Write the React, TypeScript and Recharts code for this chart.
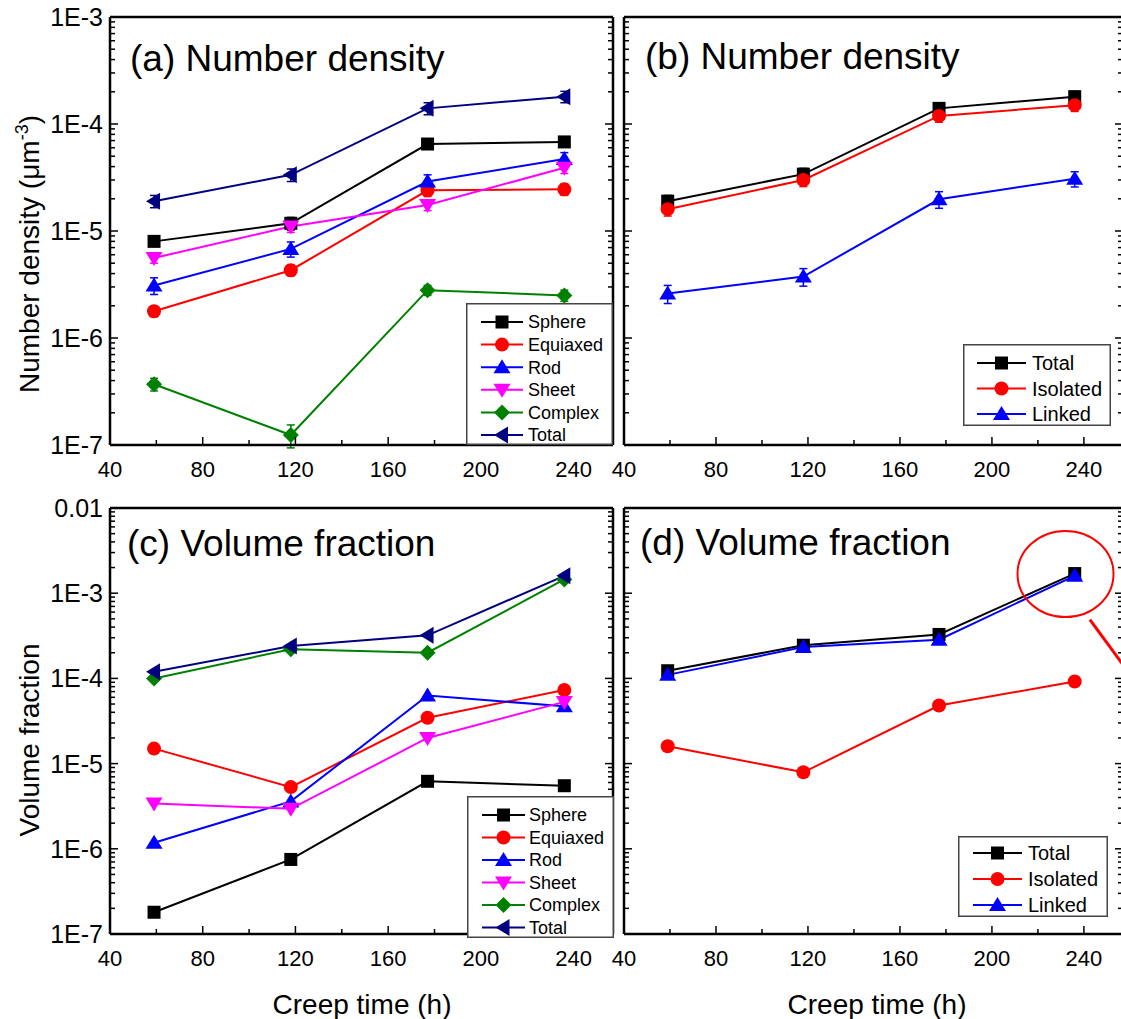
import React from 'react';
import { LineChart, Line, XAxis, YAxis, ReferenceDot, ReferenceLine, ErrorBar } from 'recharts';

const FONT = 'Arial, "Liberation Sans", Helvetica, sans-serif';

// creep time of the four samples (h)
const creepTime = [59, 118, 177, 236];

// (a) number density by morphology (um^-3), with error bars
const ndSphere = [8.0e-6, 1.18e-5, 6.5e-5, 6.8e-5];
const ndEquiaxed = [1.78e-6, 4.3e-6, 2.4e-5, 2.45e-5];
const ndRod = [3.1e-6, 6.8e-6, 2.9e-5, 4.7e-5];
const ndSheet = [5.6e-6, 1.1e-5, 1.75e-5, 3.9e-5];
const ndComplex = [3.7e-7, 1.24e-7, 2.8e-6, 2.5e-6];
const ndTotal = [1.9e-5, 3.35e-5, 1.4e-4, 1.8e-4];
const ndSphereErr = [8e-7, 1.6e-6, 5e-6, 5e-6];
const ndEquiaxedErr = [2e-7, 5e-7, 3e-6, 3e-6];
const ndRodErr = [5.5e-7, 1.1e-6, 4.5e-6, 7e-6];
const ndSheetErr = [6e-7, 1.3e-6, 2e-6, 4.5e-6];
const ndComplexErr = [5e-8, 3e-8, 3e-7, 3e-7];
const ndTotalErr = [2.5e-6, 4.5e-6, 1.8e-5, 2.2e-5];

// (b) number density, isolated vs linked
const ndAllTotal = [1.9e-5, 3.4e-5, 1.4e-4, 1.8e-4];
const ndIsolated = [1.6e-5, 3.0e-5, 1.19e-4, 1.5e-4];
const ndLinked = [2.6e-6, 3.75e-6, 1.98e-5, 3.08e-5];
const ndAllTotalErr = [2.5e-6, 4.5e-6, 1.8e-5, 2.2e-5];
const ndIsolatedErr = [2.2e-6, 4e-6, 1.5e-5, 1.9e-5];
const ndLinkedErr = [5e-7, 7e-7, 3.5e-6, 5e-6];

// (c) volume fraction by morphology
const vfSphere = [1.8e-7, 7.5e-7, 6.2e-6, 5.5e-6];
const vfEquiaxed = [1.5e-5, 5.3e-6, 3.45e-5, 7.3e-5];
const vfRod = [1.18e-6, 3.6e-6, 6.3e-5, 4.7e-5];
const vfSheet = [3.4e-6, 2.95e-6, 2.0e-5, 5.3e-5];
const vfComplex = [1.0e-4, 2.2e-4, 2.0e-4, 1.45e-3];
const vfTotal = [1.2e-4, 2.4e-4, 3.2e-4, 1.6e-3];

// (d) volume fraction, isolated vs linked
const vfAllTotal = [1.23e-4, 2.45e-4, 3.28e-4, 1.7e-3];
const vfIsolated = [1.6e-5, 7.9e-6, 4.8e-5, 9.2e-5];
const vfLinked = [1.1e-4, 2.33e-4, 2.85e-4, 1.6e-3];

// axis ticks
const xDomain = [40, 257];
const xMajor = [40, 80, 120, 160, 200, 240];
const xMinor = [60, 100, 140, 180, 220];
const xTicks = [...xMajor, ...xMinor].sort((a, b) => a - b);
const decades = [-7, -6, -5, -4, -3, -2];
const minorSteps = [2, 3, 4, 5, 6, 7, 8, 9];

// red highlight in (d)
const highlightAt = { x: 232, y: 1.68e-3 };
const pointerLine = [{ x: 242.6, y: 4.9e-4 }, { x: 257, y: 1.45e-4 }];

type Series = { key: string; name: string; color: string; shape: string };

const shapeSeries: Series[] = [
  { key: 'sphere', name: 'Sphere', color: '#000000', shape: 'square' },
  { key: 'equiaxed', name: 'Equiaxed', color: '#ff0000', shape: 'circle' },
  { key: 'rod', name: 'Rod', color: '#0000ff', shape: 'up' },
  { key: 'sheet', name: 'Sheet', color: '#ff00ff', shape: 'down' },
  { key: 'complex', name: 'Complex', color: '#008000', shape: 'diamond' },
  { key: 'total', name: 'Total', color: '#000080', shape: 'left' },
];

const linkSeries: Series[] = [
  { key: 'total', name: 'Total', color: '#000000', shape: 'square' },
  { key: 'isolated', name: 'Isolated', color: '#ff0000', shape: 'circle' },
  { key: 'linked', name: 'Linked', color: '#0000ff', shape: 'up' },
];

const dataA = creepTime.map((t, i) => ({
  t, sphere: ndSphere[i], equiaxed: ndEquiaxed[i], rod: ndRod[i],
  sheet: ndSheet[i], complex: ndComplex[i], total: ndTotal[i],
  sphereErr: ndSphereErr[i], equiaxedErr: ndEquiaxedErr[i], rodErr: ndRodErr[i],
  sheetErr: ndSheetErr[i], complexErr: ndComplexErr[i], totalErr: ndTotalErr[i],
}));
const dataB = creepTime.map((t, i) => ({
  t, total: ndAllTotal[i], isolated: ndIsolated[i], linked: ndLinked[i],
  totalErr: ndAllTotalErr[i], isolatedErr: ndIsolatedErr[i], linkedErr: ndLinkedErr[i],
}));
const dataC = creepTime.map((t, i) => ({
  t, sphere: vfSphere[i], equiaxed: vfEquiaxed[i], rod: vfRod[i],
  sheet: vfSheet[i], complex: vfComplex[i], total: vfTotal[i],
}));
const dataD = creepTime.map((t, i) => ({ t, total: vfAllTotal[i], isolated: vfIsolated[i], linked: vfLinked[i] }));

function logTicks(lo: number, hi: number) {
  const out: number[] = [];
  decades.forEach(d => {
    if (d < lo || d > hi) return;
    out.push(Math.pow(10, d));
    if (d < hi) minorSteps.forEach(m => out.push(m * Math.pow(10, d)));
  });
  return out.sort((a, b) => a - b);
}

function isDecade(v: number) {
  const l = Math.log10(v);
  return Math.abs(l - Math.round(l)) < 1e-6;
}

function fmtLog(v: number) {
  const e = Math.round(Math.log10(v));
  return e === -2 ? '0.01' : `1E${e}`;
}

function Marker({ cx, cy, shape, color }: any) {
  if (cx == null || cy == null) return null;
  switch (shape) {
    case 'square':
      return <rect x={cx - 6.5} y={cy - 6.5} width={13} height={13} fill={color} />;
    case 'circle':
      return <circle cx={cx} cy={cy} r={7} fill={color} />;
    case 'up':
      return <polygon points={`${cx},${cy - 8} ${cx + 8.5},${cy + 6} ${cx - 8.5},${cy + 6}`} fill={color} />;
    case 'down':
      return <polygon points={`${cx},${cy + 8} ${cx + 8.5},${cy - 6} ${cx - 8.5},${cy - 6}`} fill={color} />;
    case 'diamond':
      return <polygon points={`${cx},${cy - 8} ${cx + 8},${cy} ${cx},${cy + 8} ${cx - 8},${cy}`} fill={color} />;
    default:
      return <polygon points={`${cx - 8},${cy} ${cx + 6},${cy - 8.5} ${cx + 6},${cy + 8.5}`} fill={color} />;
  }
}

function XTick({ x, y, payload, side, labels }: any) {
  const major = xMajor.includes(payload.value);
  const len = major ? 8 : 5;
  const dir = side === 'top' ? 1 : -1;
  return (
    <g>
      <line x1={x} x2={x} y1={y} y2={y + dir * len} stroke="#000" strokeWidth={1.5} />
      {labels && major && (
        <text x={x} y={y + 32} textAnchor="middle" fontSize={22} fill="#000" fontFamily={FONT}>
          {payload.value}
        </text>
      )}
    </g>
  );
}

function YTick({ x, y, payload, side, labels }: any) {
  const major = isDecade(payload.value);
  const len = major ? 8 : 5;
  const dir = side === 'right' ? -1 : 1;
  return (
    <g>
      <line x1={x} x2={x + dir * len} y1={y} y2={y} stroke="#000" strokeWidth={1.5} />
      {labels && major && (
        <text x={x - 7} y={y + 9} textAnchor="end" fontSize={25} fill="#000" fontFamily={FONT}>
          {fmtLog(payload.value)}
        </text>
      )}
    </g>
  );
}

type LegendCfg = {
  x: number; y: number; w: number; h: number; row0: number; gap: number;
  lineX0: number; lineX1: number; textX: number; fs: number;
};

function LegendBox({ cfg, series, ox, oy }: { cfg: LegendCfg; series: Series[]; ox: number; oy: number }) {
  return (
    <svg
      style={{ position: 'absolute', left: cfg.x - ox, top: cfg.y - oy, overflow: 'visible' }}
      width={cfg.w}
      height={cfg.h}
    >
      <rect x={0.75} y={0.75} width={cfg.w - 1.5} height={cfg.h - 1.5} fill="#fff" stroke="#444" strokeWidth={1.5} />
      {series.map((s, i) => {
        const cy = cfg.row0 - cfg.y + i * cfg.gap;
        const x0 = cfg.lineX0 - cfg.x;
        const x1 = cfg.lineX1 - cfg.x;
        return (
          <g key={s.key}>
            <line x1={x0} x2={x1} y1={cy} y2={cy} stroke={s.color} strokeWidth={2} />
            <Marker cx={(x0 + x1) / 2} cy={cy} shape={s.shape} color={s.color} />
            <text x={cfg.textX - cfg.x} y={cy + cfg.fs * 0.36} fontSize={cfg.fs} fontFamily={FONT} fill="#000">
              {s.name}
            </text>
          </g>
        );
      })}
    </svg>
  );
}

type PanelProps = {
  box: number[];
  plot: number[];
  data: any[];
  series: Series[];
  yRange: number[];
  yLabels: boolean;
  errors?: boolean;
  legend: LegendCfg;
  title: string;
  titlePos: number[];
  yTitle?: React.ReactNode;
  yTitleY?: number;
  xTitleX?: number;
  children?: React.ReactNode;
};

function Panel({ box, plot, data, series, yRange, yLabels, errors, legend, title, titlePos, yTitle, yTitleY, xTitleX, children }: PanelProps) {
  const [bl, bt, bw, bh] = box;
  const [px0, py0, px1, py1] = plot;
  const yDomain = [Math.pow(10, yRange[0]), Math.pow(10, yRange[1])];
  const yTicks = logTicks(yRange[0], yRange[1]);
  const axisLine = { stroke: '#000', strokeWidth: 2.5 };
  return (
    <div style={{ position: 'absolute', left: bl, top: bt, width: bw, height: bh }}>
      <LineChart width={bw} height={bh} data={data} margin={{ top: 0, right: 0, bottom: 0, left: 0 }}>
        <XAxis
          xAxisId="b" dataKey="t" type="number" domain={xDomain} allowDataOverflow
          ticks={xTicks} interval={0} height={bt + bh - py1} tickSize={0} tickMargin={0}
          tickLine={false} axisLine={axisLine} tick={<XTick side="bottom" labels />}
        />
        <XAxis
          xAxisId="t" orientation="top" type="number" domain={xDomain} allowDataOverflow
          ticks={xTicks} interval={0} height={py0 - bt} tickSize={0} tickMargin={0}
          tickLine={false} axisLine={axisLine} tick={<XTick side="top" />}
        />
        <YAxis
          yAxisId="l" type="number" scale="log" domain={yDomain} allowDataOverflow
          ticks={yTicks} interval={0} width={px0 - bl} tickSize={0} tickMargin={0}
          tickLine={false} axisLine={axisLine} tick={<YTick side="left" labels={yLabels} />}
        />
        <YAxis
          yAxisId="r" orientation="right" type="number" scale="log" domain={yDomain} allowDataOverflow
          ticks={yTicks} interval={0} width={bl + bw - px1} tickSize={0} tickMargin={0}
          tickLine={false} axisLine={axisLine} tick={<YTick side="right" />}
        />
        {series.map(s => (
          <Line
            key={s.key}
            xAxisId="b"
            yAxisId="l"
            type="linear"
            dataKey={s.key}
            name={s.name}
            stroke={s.color}
            strokeWidth={2}
            isAnimationActive={false}
            activeDot={false}
            dot={(p: any) => <Marker key={`${s.key}-${p.index}`} cx={p.cx} cy={p.cy} shape={s.shape} color={s.color} />}
          >
            {errors && (
              <ErrorBar
                dataKey={`${s.key}Err`}
                direction="y"
                width={4}
                stroke={s.color}
                strokeWidth={1.5}
                isAnimationActive={false}
              />
            )}
          </Line>
        ))}
        {children}
      </LineChart>
      <svg
        style={{ position: 'absolute', left: 0, top: 0, pointerEvents: 'none', overflow: 'visible' }}
        width={bw}
        height={bh}
      >
        <text x={titlePos[0] - bl} y={titlePos[1] - bt} fontSize={37} fontFamily={FONT} fill="#000">
          {title}
        </text>
        {yTitle && (
          <text
            transform={`translate(${39 - bl},${(yTitleY as number) - bt}) rotate(-90)`}
            textAnchor="middle"
            fontSize={28}
            fontFamily={FONT}
            fill="#000"
          >
            {yTitle}
          </text>
        )}
        {xTitleX != null && (
          <text x={xTitleX - bl} y={1014 - bt} textAnchor="middle" fontSize={28} fontFamily={FONT} fill="#000">
            Creep time (h)
          </text>
        )}
      </svg>
      <LegendBox cfg={legend} series={series} ox={bl} oy={bt} />
    </div>
  );
}

export default function App() {
  return (
    <div
      style={{
        position: 'absolute', left: 0, top: 0, width: 1121, height: 1019,
        overflow: 'hidden', background: '#fff', fontFamily: FONT,
      }}
    >
      <Panel
        box={[0, 0, 640, 495]}
        plot={[110, 17, 613, 445]}
        data={dataA}
        series={shapeSeries}
        yRange={[-7, -3]}
        yLabels
        errors
        title="(a) Number density"
        titlePos={[130, 71]}
        yTitle={<>Number density (μm<tspan dy={-11} fontSize={18}>-3</tspan><tspan dy={11}>)</tspan></>}
        yTitleY={254}
        legend={{ x: 466, y: 303, w: 147, h: 142, row0: 322, gap: 22.6, lineX0: 481, lineX1: 523, textX: 528, fs: 18 }}
      />
      <Panel
        box={[600, 0, 540, 495]}
        plot={[624, 17, 1123, 445]}
        data={dataB}
        series={linkSeries}
        yRange={[-7, -3]}
        yLabels={false}
        errors
        title="(b) Number density"
        titlePos={[645, 69]}
        legend={{ x: 963, y: 344, w: 148, h: 82, row0: 363, gap: 25.5, lineX0: 977, lineX1: 1026, textX: 1032, fs: 20 }}
      />
      <Panel
        box={[0, 490, 640, 529]}
        plot={[110, 508, 613, 934]}
        data={dataC}
        series={shapeSeries}
        yRange={[-7, -2]}
        yLabels
        title="(c) Volume fraction"
        titlePos={[127, 556]}
        yTitle="Volume fraction"
        yTitleY={740}
        xTitleX={362}
        legend={{ x: 467, y: 796, w: 147, h: 142, row0: 815, gap: 22.5, lineX0: 482, lineX1: 525, textX: 529, fs: 18 }}
      />
      <Panel
        box={[600, 490, 540, 529]}
        plot={[624, 508, 1123, 934]}
        data={dataD}
        series={linkSeries}
        yRange={[-7, -2]}
        yLabels={false}
        title="(d) Volume fraction"
        titlePos={[640, 555]}
        xTitleX={877}
        legend={{ x: 958, y: 836, w: 150, h: 81, row0: 853, gap: 26, lineX0: 973, lineX1: 1022, textX: 1028, fs: 20 }}
      >
        <ReferenceDot
          xAxisId="b"
          yAxisId="l"
          x={highlightAt.x}
          y={highlightAt.y}
          ifOverflow="visible"
          shape={(p: any) => <ellipse cx={p.cx} cy={p.cy} rx={48} ry={43} fill="none" stroke="#ff0000" strokeWidth={2} />}
        />
        <ReferenceLine
          xAxisId="b"
          yAxisId="l"
          segment={pointerLine}
          stroke="#ff0000"
          strokeWidth={3}
          ifOverflow="visible"
        />
      </Panel>
    </div>
  );
}
